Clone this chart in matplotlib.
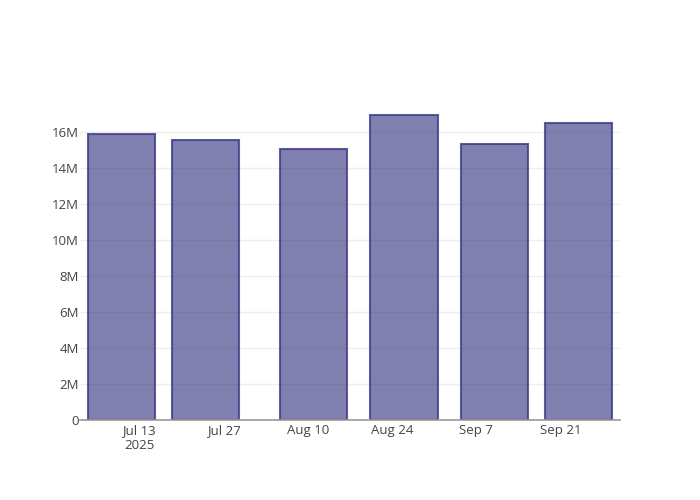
import matplotlib
matplotlib.use('Agg')
import matplotlib.pyplot as plt
import matplotlib.dates as mdates
import numpy as np
from datetime import datetime, timedelta

# data
dates = ['2025-07-10', '2025-07-24', '2025-08-11', '2025-08-26', '2025-09-10', '2025-09-24']
values = [15.92e6, 15.56e6, 15.08e6, 16.95e6, 15.37e6, 16.53e6]
tick_dates = ['2025-07-13', '2025-07-27', '2025-08-10', '2025-08-24', '2025-09-07', '2025-09-21']
tick_labels = ['Jul 13\n2025', 'Jul 27', 'Aug 10', 'Aug 24', 'Sep 7', 'Sep 21']
y_ticks = [0, 2e6, 4e6, 6e6, 8e6, 10e6, 12e6, 14e6, 16e6]
y_labels = ['0', '2M', '4M', '6M', '8M', '10M', '12M', '14M', '16M']

plt.rcParams['font.family'] = ['Open Sans', 'DejaVu Sans']

x = mdates.date2num([datetime.strptime(d, '%Y-%m-%d') for d in dates])
width = 14 * 0.8

fig = plt.figure(figsize=(7, 5), dpi=100)
ax = fig.add_axes([80/700, 80/500, 540/700, 320/500])

ax.bar(x, values, width=width, color=(25/255, 25/255, 112/255, 0.55),
       edgecolor=(60/255, 55/255, 130/255, 0.8), linewidth=1.5, zorder=3)

ax.set_xlim(x[0] - width/2 - 1.25, x[-1] + width/2 + 1.3)
ax.set_ylim(0, max(values) * 1.05)

ax.set_yticks(y_ticks)
ax.set_yticklabels(y_labels)
ax.set_xticks(mdates.date2num([datetime.strptime(d, '%Y-%m-%d') for d in tick_dates]))
ax.set_xticklabels(tick_labels)
ax.tick_params(length=0, labelsize=9.5, colors='#444444')
ax.tick_params(axis='y', pad=1)
ax.tick_params(axis='x', pad=3)
ax.grid(axis='y', color='#eeeeee', linewidth=1, zorder=0)

for s in ['top', 'right', 'left']:
    ax.spines[s].set_visible(False)
ax.spines['bottom'].set_color('#999999')
ax.spines['bottom'].set_linewidth(1.2)
ax.spines['bottom'].set_zorder(4)

plt.savefig('out.png', dpi=100)
